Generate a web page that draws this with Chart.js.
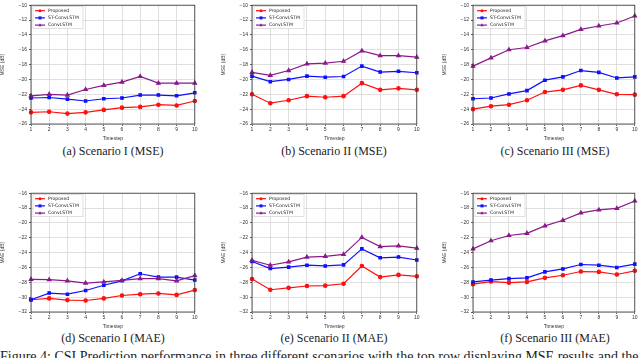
<!DOCTYPE html>
<html>
<head>
<meta charset="utf-8">
<script src="https://cdn.jsdelivr.net/npm/chart.js@4.4.1/dist/chart.umd.min.js"></script>
<style>
    body { margin: 0; width: 640px; height: 358px; overflow: hidden; background: #fff; position: relative; }
    .cv { position: absolute; }
    .cap { position: absolute; width: 220px; text-align: center; font-family: "Liberation Serif", "DejaVu Serif", serif; font-size: 12px; color: #222; white-space: nowrap; }
    #fig { position: absolute; left: 0px; top: 349px; font-family: "Liberation Serif", serif; font-size: 14px; line-height: 16px; color: #222; white-space: nowrap; }
</style>
</head>
<body>
<canvas id="chartA" class="cv" style="left:0px;top:0px" width="200" height="142"></canvas>
<canvas id="chartB" class="cv" style="left:221px;top:0px" width="201" height="142"></canvas>
<canvas id="chartC" class="cv" style="left:442px;top:0px" width="198" height="142"></canvas>
<canvas id="chartD" class="cv" style="left:0px;top:188px" width="200" height="142"></canvas>
<canvas id="chartE" class="cv" style="left:221px;top:188px" width="201" height="142"></canvas>
<canvas id="chartF" class="cv" style="left:442px;top:188px" width="198" height="142"></canvas>

<div class="cap" style="left:3px;top:144px">(a) Scenario I (MSE)</div>
<div class="cap" style="left:224px;top:144px">(b) Scenario II (MSE)</div>
<div class="cap" style="left:445px;top:144px">(c) Scenario III (MSE)</div>
<div class="cap" style="left:3px;top:331px">(d) Scenario I (MAE)</div>
<div class="cap" style="left:224px;top:331px">(e) Scenario II (MAE)</div>
<div class="cap" style="left:445px;top:331px">(f) Scenario III (MAE)</div>
<div id="fig">Figure 4: CSI Prediction performance in three different scenarios with the top row displaying MSE results and the</div>

<script>
// x axis
const timesteps = [1, 2, 3, 4, 5, 6, 7, 8, 9, 10];
const seriesNames = ['Proposed', 'ST-ConvLSTM', 'ConvLSTM'];

// y ticks
const mseTicks = { min: -26, max: -10, step: 2 };
const maeTicks = { min: -32, max: -16, step: 2 };

// (a) Scenario I MSE
const mse1Proposed = [-24.43, -24.35, -24.6, -24.43, -24.1, -23.8, -23.7, -23.4, -23.5, -22.9];
const mse1ST = [-22.5, -22.43, -22.65, -22.9, -22.6, -22.5, -22.1, -22.1, -22.2, -21.8];
const mse1Conv = [-22.2, -22.0, -22.1, -21.35, -20.8, -20.35, -19.6, -20.5, -20.5, -20.5];

// (b) Scenario II MSE
const mse2Proposed = [-22.0, -23.2, -22.8, -22.25, -22.4, -22.25, -20.5, -21.4, -21.2, -21.4];
const mse2ST = [-19.55, -20.3, -20.0, -19.55, -19.7, -19.6, -18.2, -19.0, -18.9, -19.1];
const mse2Conv = [-19.05, -19.45, -18.8, -17.9, -17.8, -17.55, -16.15, -16.8, -16.8, -17.0];

// (c) Scenario III MSE
const mse3Proposed = [-24.0, -23.6, -23.4, -22.8, -21.7, -21.4, -20.8, -21.4, -22.0, -22.05];
const mse3ST = [-22.6, -22.5, -21.95, -21.5, -20.1, -19.65, -18.8, -19.05, -19.8, -19.65];
const mse3Conv = [-18.2, -17.1, -16.0, -15.7, -14.8, -14.1, -13.25, -12.8, -12.4, -11.45];

// (d) Scenario I MAE
const mae1Proposed = [-30.35, -30.17, -30.4, -30.45, -30.17, -29.78, -29.6, -29.5, -29.7, -29.05];
const mae1ST = [-30.35, -29.45, -29.6, -29.1, -28.4, -27.8, -26.85, -27.3, -27.3, -27.7];
const mae1Conv = [-27.6, -27.65, -27.8, -28.1, -27.95, -27.75, -27.5, -27.5, -27.8, -27.1];

// (e) Scenario II MAE
const mae2Proposed = [-27.55, -29.0, -28.75, -28.5, -28.45, -28.2, -25.8, -27.3, -27.0, -27.2];
const mae2ST = [-25.2, -26.15, -25.95, -25.7, -25.8, -25.65, -23.5, -24.7, -24.6, -25.0];
const mae2Conv = [-25.05, -25.7, -25.25, -24.6, -24.5, -24.25, -21.95, -23.2, -23.1, -23.4];

// (f) Scenario III MAE
const mae3Proposed = [-28.25, -27.9, -28.05, -27.95, -27.4, -27.05, -26.55, -26.6, -26.95, -26.45];
const mae3ST = [-27.95, -27.7, -27.5, -27.4, -26.6, -26.2, -25.6, -25.7, -26.0, -25.55];
const mae3Conv = [-23.5, -22.4, -21.7, -21.4, -20.4, -19.65, -18.65, -18.25, -18.05, -17.05];

const lineStyles = [
    { color: '#ff1010', point: 'circle' },
    { color: '#1010ff', point: 'rect' },
    { color: '#8a1a8a', point: 'triangle' }
];

function drawMarker(ctx, kind, x, y, r) {
    ctx.beginPath();
    if (kind === 'circle') {
        ctx.arc(x, y, r, 0, Math.PI * 2);
    } else if (kind === 'rect') {
        ctx.rect(x - r, y - r, 2 * r, 2 * r);
    } else {
        ctx.moveTo(x, y - r * 1.2);
        ctx.lineTo(x + r * 1.1, y + r * 0.8);
        ctx.lineTo(x - r * 1.1, y + r * 0.8);
        ctx.closePath();
    }
    ctx.fill();
}

// frame around the plot + legend inside top-left
const frameLegend = {
    id: 'frameLegend',
    afterDatasetsDraw(chart) {
        const { ctx, chartArea: a } = chart;
        ctx.save();
        ctx.strokeStyle = '#333';
        ctx.lineWidth = 0.8;
        ctx.strokeRect(a.left, a.top, a.right - a.left, a.bottom - a.top);

        const bx = a.left + 2, by = a.top + 1.5;
        ctx.fillStyle = 'rgba(255,255,255,0.9)';
        ctx.strokeStyle = '#ccc';
        ctx.lineWidth = 0.6;
        ctx.fillRect(bx, by, 50, 22);
        ctx.strokeRect(bx, by, 50, 22);

        ctx.font = '4.6px "DejaVu Sans", sans-serif';
        ctx.textBaseline = 'middle';
        seriesNames.forEach(function(name, i) {
            const yy = by + 4 + i * 7.2;
            ctx.strokeStyle = lineStyles[i].color;
            ctx.fillStyle = lineStyles[i].color;
            ctx.lineWidth = 1.2;
            ctx.beginPath();
            ctx.moveTo(bx + 2, yy);
            ctx.lineTo(bx + 12, yy);
            ctx.stroke();
            drawMarker(ctx, lineStyles[i].point, bx + 7, yy, 1.5);
            ctx.fillStyle = '#222';
            ctx.fillText(name, bx + 15, yy);
        });
        ctx.restore();
    }
};

function makeChart(id, yLabel, yt, values) {
    const el = document.getElementById(id);
    if (!el) return;

    new Chart(el, {
        type: 'line',
        data: {
            labels: timesteps,
            datasets: values.map(function(v, i) {
                return {
                    label: seriesNames[i],
                    data: v,
                    borderColor: lineStyles[i].color,
                    backgroundColor: lineStyles[i].color,
                    borderWidth: 1.2,
                    pointStyle: lineStyles[i].point,
                    pointRadius: i === 2 ? 2 : 1.7,
                    tension: 0
                };
            }).reverse()
        },
        options: {
            responsive: false,
            animation: false,
            layout: { padding: { left: 0, right: 4, top: 2, bottom: 0 } },
            plugins: { legend: { display: false }, tooltip: { enabled: false } },
            scales: {
                x: {
                    type: 'category',
                    offset: false,
                    grid: { color: '#d8d8d8', lineWidth: 0.8, tickLength: 2, tickColor: '#333' },
                    border: { display: false },
                    ticks: { color: '#333', font: { size: 5 }, padding: 1, maxRotation: 0, autoSkip: false },
                    title: { display: true, text: 'Timestep', color: '#333', font: { size: 5 }, padding: 0 },
                    afterFit: function(s) { s.height = 18; }
                },
                y: {
                    min: yt.min,
                    max: yt.max,
                    grid: { color: '#d8d8d8', lineWidth: 0.8, tickLength: 2, tickColor: '#333' },
                    border: { display: false },
                    ticks: {
                        stepSize: yt.step,
                        color: '#333',
                        font: { size: 5 },
                        padding: 2,
                        callback: function(v) { return String(v).replace('-', '\u2212'); }
                    },
                    title: { display: true, text: yLabel, color: '#333', font: { size: 5 }, padding: 0 },
                    afterFit: function(s) { s.width = 31; }
                }
            }
        },
        plugins: [frameLegend]
    });
}

document.addEventListener('DOMContentLoaded', function() {
    makeChart('chartA', 'MSE (dB)', mseTicks, [mse1Proposed, mse1ST, mse1Conv]);
    makeChart('chartB', 'MSE (dB)', mseTicks, [mse2Proposed, mse2ST, mse2Conv]);
    makeChart('chartC', 'MSE (dB)', mseTicks, [mse3Proposed, mse3ST, mse3Conv]);
    makeChart('chartD', 'MAE (dB)', maeTicks, [mae1Proposed, mae1ST, mae1Conv]);
    makeChart('chartE', 'MAE (dB)', maeTicks, [mae2Proposed, mae2ST, mae2Conv]);
    makeChart('chartF', 'MAE (dB)', maeTicks, [mae3Proposed, mae3ST, mae3Conv]);
});
</script>
</body>
</html>
